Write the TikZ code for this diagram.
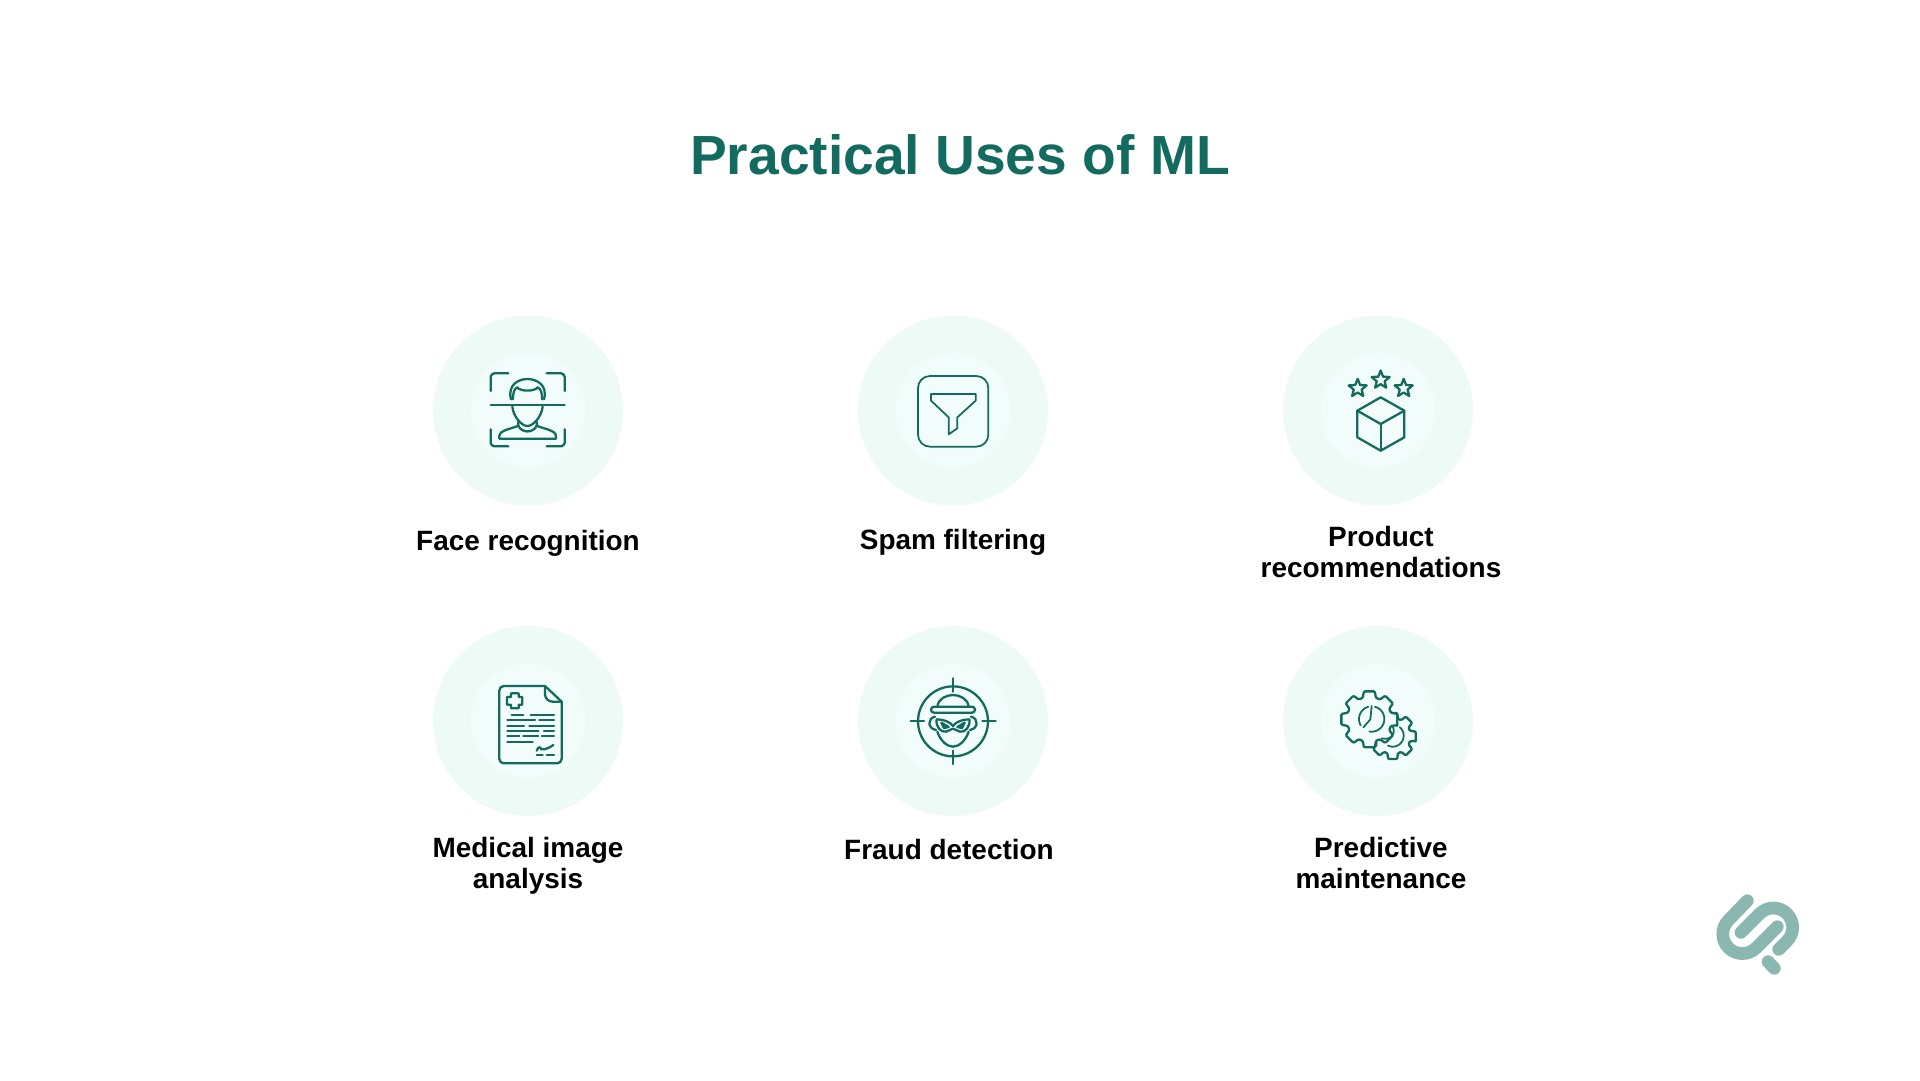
\documentclass[tikz,border=0pt]{standalone}
\usepackage{fontspec}
\setmainfont{Liberation Sans}
\usetikzlibrary{shapes.geometric}
\definecolor{teal}{rgb}{0.07,0.42,0.37}
\definecolor{ringout}{rgb}{0.93,0.98,0.965}
\definecolor{ringin}{rgb}{0.95,0.99,0.982}
\definecolor{logo}{rgb}{0.54,0.72,0.69}
\tikzset{
  ringouter/.style={circle,fill=ringout,minimum size=3.80cm,inner sep=0pt},
  ringinner/.style={circle,fill=ringin,minimum size=2.30cm,inner sep=0pt},
  usecase/.style={font=\bfseries\fontsize{15.9}{17.6}\selectfont,align=center,text=black},
  iconscope/.style={x=0.006667cm,y=-0.006667cm},
  iconline/.style={draw=teal,line width=1.3pt,line join=round,line cap=round},
  thinline/.style={draw=teal,line width=1.0pt,line join=round,line cap=round},
  logoline/.style={draw=logo,line width=0.254cm,line cap=round},
  starmark/.style={star,star points=5,star point ratio=2.3,minimum size=0.38cm,inner sep=0pt,draw=teal,line width=1.3pt,line join=round}
}
\newcommand{\gearshape}[4]{%
  \draw[iconline,fill=ringin,shift={(#1,#2)},rounded corners=0.6pt]
    (-12:#3)
    \foreach \a in {0,45,...,315} {
      -- (\a-11:#3) -- (\a+11:#3) -- (\a+17:#4) -- (\a+28:#4)
    } -- cycle;
}
\begin{document}
\begin{tikzpicture}[x=0.02cm,y=-0.02cm]
\useasboundingbox (0,0) rectangle (1920,1080);

% title
\node[font=\bfseries\fontsize{31.4}{36}\selectfont,text=teal] (title) at (960,154.5) {Practical Uses of ML};

% the six rings
\foreach \i/\cx/\cy in {1/528/410.5,2/953/410.5,3/1378/410.5,4/528/721,5/953/721,6/1378/721} {
    \node[ringouter] (outer\i) at (\cx,\cy) {};
    \node[ringinner] (inner\i) at (\cx,\cy) {};
}

% labels
\node[usecase] (face) at (528,543.5) {Face recognition};
\node[usecase] (spam) at (953,542) {Spam filtering};
\node[usecase] (product) at (1381,552) {Product\\recommendations};
\node[usecase] (medical) at (528,866) {Medical image\\analysis};
\node[usecase] (fraud) at (949,849) {Fraud detection};
\node[usecase] (predictive) at (1381,863) {Predictive\\maintenance};

% face recognition
\begin{scope}[shift={(420,310)},iconscope]
\draw[iconline] (212,243) -- (212,200) to[bend left=30] (222,190) -- (265,190);
\draw[iconline] (380,190) -- (424,190) to[bend left=30] (434,200) -- (434,243);
\draw[iconline] (212,358) -- (212,399) to[bend right=30] (222,409) -- (265,409);
\draw[iconline] (380,409) -- (424,409) to[bend right=30] (434,399) -- (434,358);
\draw[iconline] (212,286) -- (434,286);
\draw[iconline] (273,268) .. controls (262,225) and (295,207) .. (322,207) .. controls (350,207) and (384,225) .. (372,268);
\draw[iconline] (279,268) .. controls (278,250) and (283,235) .. (292,232) .. controls (300,245) and (345,245) .. (353,232) .. controls (362,235) and (367,250) .. (366,268);
\draw[iconline] (277,290) .. controls (280,320) and (305,348) .. (322,348) .. controls (340,348) and (365,320) .. (368,290);
\draw[iconline] (295,335) -- (295,347) .. controls (280,355) and (238,360) .. (238,378) -- (238,386) -- (408,386) -- (408,378) .. controls (408,360) and (365,355) .. (350,347) -- (350,335);
\draw[iconline] (295,347) .. controls (305,370) and (340,370) .. (350,347);
\end{scope}

% spam filter
\begin{scope}[shift={(850,310)},iconscope]
\draw[thinline,rounded corners=0.24cm] (204,198) rectangle (415,410);
\draw[thinline] (243,252) -- (377,252) -- (377,272) -- (322,322) -- (322,355) -- (296,373) -- (296,322) -- (243,272) -- cycle;
\end{scope}

% product box with stars
\begin{scope}[shift={(1270,310)},iconscope]
\foreach \i/\sx/\sy in {1/263/235,2/332/210,3/401/235} {
    \node[starmark] (star\i) at (\sx,\sy) {};
}
\draw[iconline] (332,262) -- (403,302) -- (403,382) -- (332,422) -- (262,382) -- (262,302) -- cycle;
\draw[iconline] (262,302) -- (332,342) -- (403,302);
\draw[iconline] (332,342) -- (332,422);
\end{scope}

% medical report
\begin{scope}[shift={(420,620)},iconscope]
\draw[iconline,rounded corners=0.09cm] (375,198) -- (238,198) -- (238,430) -- (425,430) -- (425,245);
\draw[iconline] (375,198) -- (425,245);
\draw[iconline] (375,198) -- (375,222) .. controls (375,235) and (385,245) .. (398,245) -- (425,245);
\draw[iconline,rounded corners=0.01cm] (273,220) -- (296,220) -- (296,231) -- (307,231) -- (307,254) -- (296,254) -- (296,265) -- (273,265) -- (273,254) -- (261,254) -- (261,231) -- (273,231) -- cycle;
\foreach \yy/\xa/\xb in {286/275/310,286/332/402,301/262/345,301/358/402,317/262/312,317/328/402,333/262/355,333/372/402,349/262/298,349/310/355,349/365/402,365/262/338,405/350/368,405/380/402} {
    \draw[iconline] (\xa,\yy) -- (\xb,\yy);
}
\draw[iconline] (350,392) .. controls (355,380) and (360,378) .. (364,388) .. controls (375,390) and (390,382) .. (400,375);
\end{scope}

% fraud target
\begin{scope}[shift={(850,620)},iconscope]
\draw[iconline] (309,304) circle (0.70cm);
\draw[iconline] (309,175) -- (309,215);
\draw[iconline] (309,392) -- (309,432);
\draw[iconline] (182,304) -- (222,304);
\draw[iconline] (397,304) -- (437,304);
\draw[iconline,rounded corners=0.06cm] (243,260) rectangle (375,278);
\draw[iconline] (262,260) .. controls (265,235) and (290,225) .. (309,225) .. controls (328,225) and (353,235) .. (356,260);
\draw[iconline] (255,290) .. controls (232,295) and (232,325) .. (258,330);
\draw[iconline] (363,290) .. controls (386,295) and (386,325) .. (360,330);
\draw[iconline] (260,298) .. controls (280,298) and (300,305) .. (309,318) .. controls (318,305) and (338,298) .. (358,298) .. controls (362,320) and (345,338) .. (330,335) .. controls (320,333) and (315,326) .. (309,326) .. controls (303,326) and (298,333) .. (288,335) .. controls (273,338) and (256,320) .. (260,298) -- cycle;
\draw[iconline] (262,335) .. controls (270,360) and (290,380) .. (309,380) .. controls (328,380) and (348,360) .. (356,335);
\draw[iconline,fill=teal] (274,308) -- (296,321) -- (282,324) -- cycle;
\draw[iconline,fill=teal] (344,308) -- (322,321) -- (336,324) -- cycle;
\end{scope}

% maintenance gears
\begin{scope}[shift={(1270,620)},iconscope]
\gearshape{368}{348}{0.47cm}{0.36cm}
\gearshape{298}{298}{0.57cm}{0.45cm}
\draw[thinline] plot[domain=-75:100,samples=30] ({305+38*cos(\x)},{297+38*sin(\x)});
\draw[thinline] plot[domain=150:255,samples=20] ({305+38*cos(\x)},{297+38*sin(\x)});
\draw[thinline] (305,258) -- (301,298) -- (280,322);
\draw[thinline] plot[domain=-50:115,samples=30] ({368+33*cos(\x)},{347+33*sin(\x)});
\draw[thinline] (368,318) .. controls (378,340) and (365,362) .. (335,355);
\end{scope}

% logo
\begin{scope}[shift={(1690,870)},iconscope]
\draw[logoline] (172,92) -- (115.5,150.5) .. controls (92.6,173.4) and (92.6,210.6) .. (115.5,233.5) .. controls (138.4,256.4) and (175.6,256.4) .. (198.5,233.5) -- (262,170);
\draw[logoline] (153,187) -- (209,131) .. controls (231.6,108.4) and (268.4,108.4) .. (291,131) .. controls (313.6,153.6) and (313.6,190.4) .. (291,213) -- (266,238);
\draw[logoline] (234,275) -- (253,295);
\end{scope}
\end{tikzpicture}
\end{document}
